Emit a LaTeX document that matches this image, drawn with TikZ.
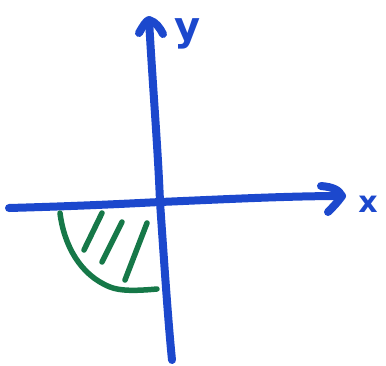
\documentclass[tikz,border=0pt]{standalone}
\usepackage{fontspec}
\setmainfont{DejaVu Sans}
\definecolor{mblue}{RGB}{28,72,205}
\definecolor{mgreen}{RGB}{22,120,72}
\begin{document}
\begin{tikzpicture}[x=1pt,y=-1pt,
  axis/.style={mblue,line width=8pt,line cap=round,line join=round},
  shade/.style={mgreen,line width=5.5pt,line cap=round,line join=round},
  lbl/.style={mblue,font=\bfseries}]
\useasboundingbox (0,0) rectangle (386,365);
% horizontal axis
\coordinate (xl) at (9,208);
\coordinate (xo) at (160,202);
\coordinate (xr) at (342,196);
\draw[axis] (xl) .. controls (80,206) and (120,204) .. (xo) .. controls (230,199) and (290,196) .. (xr);
\draw[axis] (321,186) .. controls (333,187) and (339,190) .. (xr) .. controls (337,203) and (332,208) .. (328,212);
% vertical axis
\coordinate (yt) at (149,20);
\coordinate (yb) at (172,360);
\draw[axis] (yt) .. controls (153,90) and (158,150) .. (xo) .. controls (164,260) and (168,320) .. (yb);
\draw[axis] (139,33) .. controls (143,26) and (146,21) .. (yt) .. controls (156,22) and (160,28) .. (163,34);
% labels
\node[lbl,font=\bfseries\fontsize{40}{40}\selectfont] (ylab) at (188,34) {y};
\node[lbl,font=\bfseries\fontsize{30}{30}\selectfont] (xlab) at (368,204) {x};
% green region
\draw[shade] (60,213) .. controls (64,245) and (80,275) .. (110,287) .. controls (120,291) and (135,291) .. (157,289);
\draw[shade] (102,213) -- (84,250);
\draw[shade] (122,222) -- (102,262);
\draw[shade] (147,223) -- (125,280);
\end{tikzpicture}
\end{document}
